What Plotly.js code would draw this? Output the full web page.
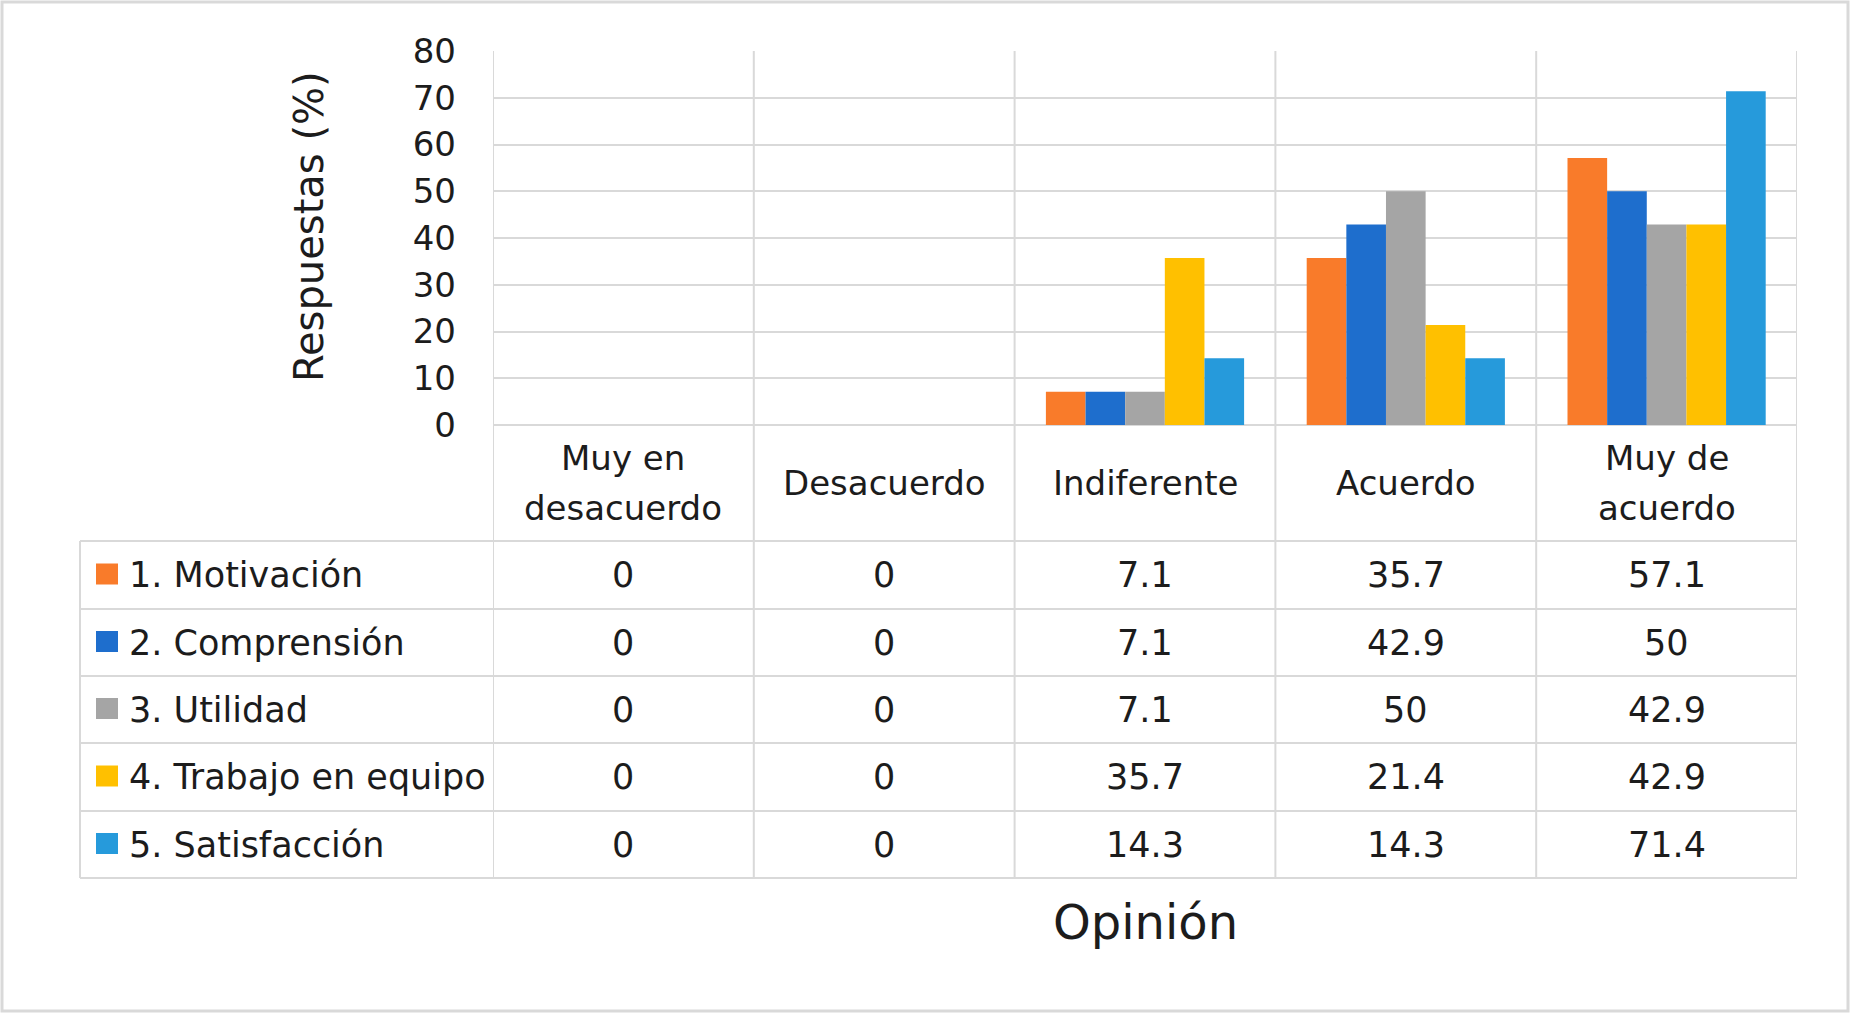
<!DOCTYPE html>
<html>
<head>
<meta charset="utf-8">
<script src="https://cdn.plot.ly/plotly-3.0.1.min.js"></script>
<style>html,body{margin:0;padding:0;background:#fff;}#chart{width:1850px;height:1013px;}</style>
</head>
<body>
<div id="chart"></div>
<script>
// ---- data ----
const categories = ["Muy en desacuerdo", "Desacuerdo", "Indiferente", "Acuerdo", "Muy de acuerdo"];
const categoryLabels = ["Muy en<br>desacuerdo", "Desacuerdo", "Indiferente", "Acuerdo", "Muy de<br>acuerdo"];
const seriesNames = ["1. Motivación", "2. Comprensión", "3. Utilidad", "4. Trabajo en equipo", "5. Satisfacción"];
const motivacion   = [0, 0, 7.1, 35.7, 57.1];
const comprension  = [0, 0, 7.1, 42.9, 50];
const utilidad     = [0, 0, 7.1, 50, 42.9];
const trabajo      = [0, 0, 35.7, 21.4, 42.9];
const satisfaccion = [0, 0, 14.3, 14.3, 71.4];
const seriesValues = [motivacion, comprension, utilidad, trabajo, satisfaccion];
const seriesColors = ["#F97B2A", "#1E6ECD", "#A5A5A5", "#FFC000", "#269ADB"];
const yTicks = [0, 10, 20, 30, 40, 50, 60, 70, 80];
const yTitle = "Respuestas (%)";
const xTitle = "Opinión";

// ---- layout geometry (pixels) ----
const W = 1850, H = 1013;
const plotL = 493, plotR = 1797, plotT = 51, plotB = 425;
const tableL = 80;
const rowLines = [541, 609, 676, 743, 811, 878];
const pw = plotR - plotL, ph = plotB - plotT;
const px2x = px => (px - plotL) / pw;
const py2y = py => (plotB - py) / ph;

const FONT = "DejaVu Sans";
const TXT = "#1c1c1c";
const GRID = "#d9d9d9";

const traces = seriesNames.map((n, i) => ({
  type: "bar", name: n, x: categories, y: seriesValues[i],
  marker: {color: seriesColors[i], line: {width: 0}},
  hoverinfo: "skip"
}));

const shapes = [];
const annotations = [];
// outer border
shapes.push({type: "rect", xref: "paper", yref: "paper", x0: px2x(2), x1: px2x(W - 2), y0: py2y(2), y1: py2y(H - 2),
  line: {color: GRID, width: 3}, fillcolor: "rgba(0,0,0,0)", layer: "below"});
// vertical boundaries
for (let i = 0; i <= categories.length; i++) {
  shapes.push({type: "line", xref: "x", yref: "paper", x0: i - 0.5, x1: i - 0.5, y0: py2y(rowLines[rowLines.length - 1]), y1: 1,
    line: {color: GRID, width: 2}, layer: "below"});
}
// table left edge
shapes.push({type: "line", xref: "paper", yref: "paper", x0: px2x(tableL), x1: px2x(tableL),
  y0: py2y(rowLines[0]), y1: py2y(rowLines[rowLines.length - 1]), line: {color: GRID, width: 2}, layer: "below"});
// horizontal row lines
rowLines.forEach(py => shapes.push({type: "line", xref: "paper", yref: "paper", x0: px2x(tableL), x1: 1,
  y0: py2y(py), y1: py2y(py), line: {color: GRID, width: 2}, layer: "below"}));

// category header (each line placed separately for Excel-like line spacing)
const headerMid = (plotB + rowLines[0]) / 2;
const headerLineGap = 50;
categoryLabels.forEach((c, j) => {
  const lines = c.split("<br>");
  lines.forEach((ln, k) => {
    const cy = headerMid + (k - (lines.length - 1) / 2) * headerLineGap;
    annotations.push({xref: "x", yref: "paper", x: categories[j], y: py2y(cy),
      text: ln, showarrow: false, xanchor: "center", yanchor: "middle", font: {family: FONT, size: 34, color: TXT}});
  });
});

// table rows
seriesNames.forEach((n, i) => {
  const cy = (rowLines[i] + rowLines[i + 1]) / 2;
  shapes.push({type: "rect", xref: "paper", yref: "paper", x0: px2x(96), x1: px2x(118), y0: py2y(cy - 1 + 10.5), y1: py2y(cy - 1 - 10.5),
    fillcolor: seriesColors[i], line: {width: 0}});
  annotations.push({xref: "paper", yref: "paper", x: px2x(127), y: py2y(cy), text: n, showarrow: false,
    xanchor: "left", yanchor: "middle", font: {family: FONT, size: 35, color: TXT}});
  seriesValues[i].forEach((v, j) => annotations.push({xref: "x", yref: "paper", x: categories[j], y: py2y(cy),
    text: String(v), showarrow: false, xanchor: "center", yanchor: "middle", font: {family: FONT, size: 35, color: TXT}}));
});

// axis titles
annotations.push({xref: "paper", yref: "paper", x: px2x(309), y: py2y(227), text: yTitle, textangle: -90, showarrow: false,
  xanchor: "center", yanchor: "middle", font: {family: FONT, size: 40, color: TXT}});
annotations.push({xref: "paper", yref: "paper", x: 0.5, y: py2y(922), text: xTitle, showarrow: false,
  xanchor: "center", yanchor: "middle", font: {family: FONT, size: 48, color: TXT}});

const layout = {
  width: W, height: H,
  margin: {l: plotL, r: W - plotR, t: plotT, b: H - plotB, pad: 0},
  paper_bgcolor: "#ffffff", plot_bgcolor: "#ffffff",
  showlegend: false, hovermode: false,
  barmode: "group", bargap: 0.24, bargroupgap: 0,
  xaxis: {type: "category", categoryorder: "array", categoryarray: categories, range: [-0.5, categories.length - 0.5],
    showgrid: false, zeroline: false, showline: false, showticklabels: false, ticks: "", fixedrange: true},
  yaxis: {range: [0, 80], tickvals: yTicks, ticktext: yTicks.map(String), showgrid: true, gridcolor: GRID, gridwidth: 2,
    zeroline: true, zerolinecolor: GRID, zerolinewidth: 2, showline: false, ticks: "", ticklabelstandoff: 36,
    tickfont: {family: FONT, size: 34, color: TXT}, fixedrange: true},
  shapes: shapes,
  annotations: annotations
};

Plotly.newPlot("chart", traces, layout, {staticPlot: true, displayModeBar: false});
</script>
</body>
</html>
